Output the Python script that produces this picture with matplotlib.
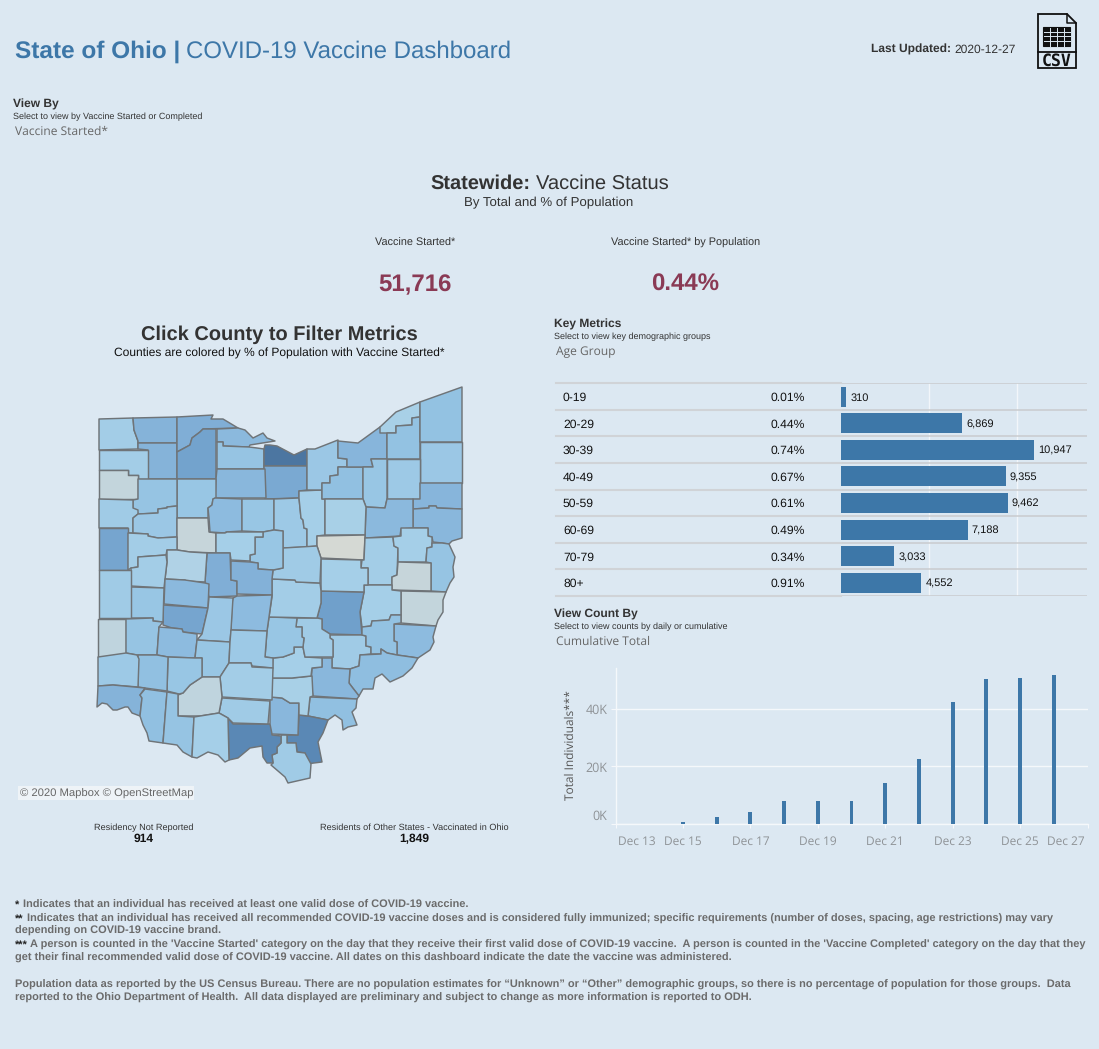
import matplotlib
matplotlib.use("Agg")
import matplotlib.pyplot as plt
from matplotlib.patches import Polygon, Rectangle
from matplotlib.colors import LinearSegmentedColormap
from matplotlib import transforms
import numpy as np

plt.rcParams["text.hinting"] = "no_hinting"

W, H = 1099, 1049
BG = "#dce8f2"
BLUE = "#3d77a8"
SANS = "Liberation Sans"
TAB = "Open Sans"

# ---- data ----
age_groups = ["0-19", "20-29", "30-39", "40-49", "50-59", "60-69", "70-79", "80+"]
age_counts = [310, 6869, 10947, 9355, 9462, 7188, 3033, 4552]
age_pct = ["0.01%", "0.44%", "0.74%", "0.67%", "0.61%", "0.49%", "0.34%", "0.91%"]

day_numbers = [15, 16, 17, 18, 19, 20, 21, 22, 23, 24, 25, 26]
day_totals = [700, 2440, 4190, 8020, 8020, 8020, 14300, 22670, 42560, 50580, 50930, 51716]
tick_days = [15, 17, 19, 21, 23, 25]
y_ticks = [0, 20000, 40000]

# county outlines traced from the map (image pixels), with estimated % of population
county_names = []
county_pct = []
county_outline = []
def county(name, pct, outline):
    county_names.append(name); county_pct.append(pct); county_outline.append(outline)

county("Williams", .32, [(99,419),(133,418),(134,430),(138,441),(138,449),(99,450)])
county("Fulton", .58, [(133,418),(177,417),(177,443),(138,443),(138,441),(134,430)])
county("Henry", .58, [(138,443),(177,443),(177,479),(148,479),(148,450),(138,449)])
county("Defiance", .32, [(99,450),(148,450),(148,479),(138,479),(138,475),(128,475),(128,470),(99,470)])
county("Paulding", .12, [(99,470),(128,470),(128,475),(138,475),(138,499),(99,499)])
county("Lucas", .62, [(177,417),(213,415),(211,419),(223,419),(238,428),(203,429),(200,432),(192,438),(190,445),(177,452)])
county("Wood", .70, [(177,452),(190,445),(192,438),(200,432),(203,429),(216,429),(216,479),(177,479)])
county("Ottawa", .52, [(217,429),(238,428),(245,430),(253,438),(263,433),(267,438),(275,441),(250,445),(249,447),(223,446),(223,442),(217,442)])
county("Sandusky", .42, [(217,442),(223,442),(223,446),(249,447),(257,448),(264,449),(264,469),(217,469)])
county("Erie", .98, [(264,449),(265,445),(270,445),(277,446),(294,455),(307,449),(307,466),(264,466)])
county("Huron", .66, [(264,466),(307,466),(307,490),(299,491),(299,498),(265,499)])
county("Seneca", .54, [(217,469),(265,469),(266,498),(215,498),(216,479)])
county("Putnam", .40, [(177,479),(216,479),(216,498),(213,499),(212,505),(208,508),(208,518),(177,518)])
county("Hancock2", .42, [(138,479),(177,479),(177,506),(167,507),(167,508),(158,509),(158,513),(139,514),(133,509),(133,500),(138,499)])
county("VanWert", .34, [(99,499),(133,500),(133,508),(138,510),(138,514),(133,518),(133,533),(128,533),(128,528),(99,528)])
county("Allen", .38, [(138,514),(158,513),(158,509),(167,508),(167,507),(177,506),(177,537),(158,538),(148,536),(148,534),(133,533),(133,518)])
county("Hardin", .10, [(177,518),(208,518),(209,532),(216,533),(216,553),(190,552),(177,550)])
county("Mercer", .68, [(99,528),(128,528),(128,570),(99,570)])
county("Auglaize", .32, [(128,533),(148,534),(148,536),(158,538),(177,537),(177,550),(167,550),(166,555),(138,557),(138,567),(131,568),(128,570)])
county("Hancock", .50, [(215,498),(242,499),(242,531),(226,532),(225,533),(210,532),(209,518),(208,508),(212,505),(213,499)])
county("Crawford", .40, [(242,499),(274,499),(274,530),(263,532),(242,531)])
county("Richland", .36, [(274,499),(299,498),(301,518),(303,520),(304,528),(307,529),(307,547),(283,548),(283,531),(274,530)])
county("Ashland", .30, [(299,491),(322,490),(322,499),(325,499),(325,535),(317,536),(317,546),(307,547),(307,529),(304,528),(303,520),(301,518),(299,498)])
county("Lorain", .38, [(307,449),(315,449),(338,440),(338,458),(347,459),(347,467),(338,467),(338,475),(330,476),(330,483),(322,483),(322,490),(307,490)])
county("Medina", .46, [(322,483),(330,483),(330,476),(338,475),(338,467),(363,467),(363,499),(322,499)])
county("Cuyahoga", .56, [(338,441),(358,443),(380,427),(387,433),(387,459),(371,459),(373,467),(363,467),(347,467),(347,459),(338,458)])
county("Lake", .28, [(380,427),(396,412),(420,402),(420,417),(412,418),(412,425),(396,426),(396,433),(380,433)])
county("Geauga", .44, [(387,433),(396,433),(396,426),(412,425),(412,418),(420,417),(420,459),(387,459)])
county("Ashtabula", .44, [(420,402),(462,387),(462,442),(420,442)])
county("Trumbull", .38, [(420,442),(462,442),(462,483),(420,483)])
county("Portage", .36, [(387,459),(420,459),(420,499),(387,499)])
county("Summit", .40, [(371,459),(387,459),(387,499),(385,508),(366,507),(363,499),(363,467),(373,467)])
county("Mahoning", .56, [(420,483),(462,483),(462,509),(437,508),(436,506),(429,506),(429,508),(413,509),(413,499),(420,499)])
county("Columbiana", .54, [(413,509),(429,508),(429,506),(436,506),(437,508),(462,509),(462,538),(452,541),(449,544),(442,543),(433,542),(432,537),(428,536),(428,528),(413,528)])
county("Stark", .52, [(366,507),(385,508),(387,499),(413,499),(413,528),(401,529),(400,536),(365,538)])
county("Wayne", .28, [(325,499),(363,499),(366,507),(365,535),(325,535)])
county("Holmes", .01, [(317,536),(365,535),(364,560),(321,558),(317,546)])
county("Tuscarawas", .32, [(365,538),(393,537),(394,546),(398,548),(397,575),(392,577),(392,585),(368,585),(368,568),(361,568),(362,560),(364,560)])
county("Carroll", .30, [(401,528),(428,528),(428,536),(432,537),(432,547),(427,548),(426,562),(398,562),(398,548),(394,546),(393,537),(401,536)])
county("Jefferson", .42, [(432,543),(442,543),(449,544),(455,557),(453,567),(454,577),(450,583),(446,592),(431,591),(431,563),(426,562),(427,548),(432,547)])
county("Harrison", .10, [(398,562),(431,563),(431,591),(392,590),(392,577),(397,575)])
county("Belmont", .12, [(401,591),(446,592),(443,600),(443,612),(438,620),(436,626),(401,623)])
county("Monroe", .50, [(394,624),(436,626),(433,637),(434,642),(430,650),(418,658),(397,655),(397,642),(394,641)])
county("Guernsey", .30, [(364,585),(392,585),(392,590),(401,591),(401,615),(391,615),(389,620),(372,621),(371,626),(362,627),(360,612),(364,592)])
county("Muskingum", .72, [(321,591),(364,592),(360,612),(362,635),(330,634),(322,629),(322,619),(317,618),(321,603)])
county("Coshocton", .30, [(321,559),(361,560),(361,568),(368,568),(368,585),(364,585),(364,592),(321,591)])
county("Morgan", .34, [(330,635),(362,635),(366,636),(366,646),(371,647),(371,654),(360,655),(359,666),(350,669),(332,668),(332,658),(333,657),(333,640),(330,638)])
county("Noble", .44, [(362,627),(371,626),(372,621),(389,620),(391,615),(401,615),(401,623),(394,624),(394,641),(397,642),(397,655),(387,653),(381,649),(381,654),(371,654),(371,647),(366,646),(366,636),(362,635)])
county("Washington", .48, [(360,655),(381,654),(381,649),(387,653),(397,655),(418,658),(412,668),(403,676),(390,682),(382,674),(375,678),(373,689),(363,689),(359,696),(352,687),(349,683),(350,669),(359,666)])
county("Athens", .54, [(322,658),(332,658),(332,668),(350,669),(349,683),(352,687),(359,696),(357,699),(313,696),(311,685),(312,668),(322,667)])
county("Meigs", .46, [(310,697),(357,699),(356,708),(352,712),(357,725),(348,727),(343,730),(342,720),(335,715),(328,720),(308,716)])
county("Gallia", .90, [(299,715),(308,716),(328,720),(323,733),(318,742),(322,762),(306,764),(305,753),(297,752),(296,743),(287,743),(287,735),(298,735)])
county("Lawrence", .34, [(282,735),(287,735),(287,743),(296,743),(297,752),(305,753),(311,764),(310,778),(288,783),(285,777),(271,765),(273,763),(272,755),(277,753),(277,747),(281,743),(281,736)])
county("Scioto", .90, [(228,718),(233,724),(272,724),(272,735),(281,736),(281,743),(277,747),(277,753),(272,755),(273,763),(267,763),(263,757),(262,746),(250,748),(238,758),(229,760)])
county("Pike", .34, [(222,698),(270,701),(268,724),(233,723),(228,718),(219,713)])
county("Jackson", .54, [(270,697),(282,698),(290,703),(299,703),(298,735),(272,734),(270,724)])
county("Vinton", .28, [(272,678),(292,678),(312,676),(313,696),(310,697),(308,716),(299,715),(299,703),(290,703),(282,698),(270,697)])
county("Hocking", .30, [(273,658),(283,657),(294,653),(294,647),(303,647),(305,657),(322,658),(322,667),(312,668),(311,676),(292,678),(272,678)])
county("Perry", .34, [(297,618),(317,618),(322,619),(322,629),(330,634),(330,638),(333,640),(333,657),(305,657),(303,647),(304,638),(302,637),(302,627),(296,627)])
county("Fairfield", .40, [(269,617),(297,618),(296,627),(302,627),(302,637),(304,638),(303,647),(294,647),(294,653),(283,657),(273,658),(265,657),(267,631)])
county("Licking", .32, [(272,579),(295,580),(296,582),(320,583),(321,591),(321,603),(317,618),(269,617),(272,597)])
county("Knox", .34, [(283,548),(317,546),(321,558),(320,583),(296,582),(295,580),(272,579),(273,570),(283,568)])
county("Morrow", .40, [(263,532),(274,530),(283,531),(283,568),(273,570),(258,569),(258,563),(250,562),(250,555),(255,554),(255,537),(263,537)])
county("Marion", .30, [(216,533),(225,533),(227,532),(263,532),(263,537),(255,537),(255,554),(250,555),(250,561),(231,560),(230,553),(216,553)])
county("Union", .62, [(207,553),(230,553),(231,580),(237,581),(237,596),(209,597),(205,582)])
county("Logan", .22, [(167,550),(177,550),(190,552),(207,553),(205,582),(186,581),(185,580),(165,579),(167,562)])
county("Shelby", .32, [(138,557),(166,555),(167,562),(165,579),(164,588),(131,586),(131,568),(138,567)])
county("Delaware", .60, [(231,561),(250,562),(258,563),(258,569),(273,570),(272,579),(272,595),(237,594),(237,581),(231,580)])
county("Franklin", .50, [(233,598),(237,596),(272,595),(269,617),(267,631),(231,630),(232,603)])
county("Champaign", .52, [(165,579),(185,580),(205,583),(209,584),(208,608),(164,604)])
county("Clark", .68, [(163,605),(208,608),(202,634),(183,632),(182,629),(172,628),(163,625)])
county("Madison", .38, [(209,597),(233,598),(231,630),(230,642),(197,640),(202,634),(208,608)])
county("Miami", .40, [(131,587),(164,588),(163,622),(153,621),(153,618),(131,618)])
county("Darke", .34, [(99,570),(131,570),(131,618),(99,618)])
county("Preble", .14, [(98,619),(126,619),(126,657),(98,657)])
county("Montgomery", .42, [(126,619),(153,618),(153,621),(163,622),(159,627),(157,655),(137,655),(126,653)])
county("Greene", .50, [(159,627),(172,628),(182,629),(183,632),(197,634),(197,640),(195,658),(168,657),(157,655)])
county("Pickaway", .40, [(197,640),(230,642),(229,663),(220,677),(202,677),(202,658),(195,658)])
county("Ross", .36, [(231,630),(267,631),(265,657),(273,658),(273,668),(252,666),(251,663),(229,663),(230,642)])
county("Jackson2", .32, [(229,663),(251,663),(252,667),(273,668),(272,700),(222,697),(220,677)])
county("Highland", .14, [(202,677),(220,677),(222,697),(219,713),(200,716),(178,716),(178,695),(183,693),(190,685)])
county("Clinton", .40, [(168,657),(195,658),(202,658),(202,677),(190,685),(183,693),(179,694),(167,691)])
county("Warren", .46, [(138,655),(157,655),(168,657),(167,691),(145,688),(138,687)])
county("Butler", .36, [(98,657),(126,653),(137,655),(139,659),(138,687),(113,685),(98,686)])
county("Hamilton", .58, [(98,686),(113,685),(145,688),(140,695),(142,698),(140,716),(132,713),(128,707),(125,707),(117,710),(113,710),(107,704),(102,703),(97,707)])
county("Clermont", .46, [(145,689),(167,692),(163,743),(149,741),(147,733),(143,725),(140,716),(142,698),(140,695)])
county("Brown", .42, [(167,692),(178,694),(178,716),(194,717),(192,757),(183,752),(177,745),(163,743)])
county("Adams", .30, [(194,717),(219,713),(228,718),(229,760),(225,762),(218,755),(208,752),(197,758),(192,757)])

cmap = LinearSegmentedColormap.from_list("vax", [
    (0.00, "#d6d9d4"), (0.10, "#c6d5da"), (0.20, "#b3d3e5"), (0.30, "#a5cfe8"),
    (0.45, "#92c1e2"), (0.60, "#83b1d8"), (0.72, "#70a0cb"), (0.90, "#5a88b5"), (1.00, "#48729c")])

# ---- figure ----
fig = plt.figure(figsize=(W / 100, H / 100), dpi=100, facecolor=BG)
ov = fig.add_axes([0, 0, 1, 1], facecolor="none")
ov.set_xlim(0, W); ov.set_ylim(H, 0); ov.axis("off")

def axpx(l, t, r, b):
    return fig.add_axes([l / W, 1 - b / H, (r - l) / W, (b - t) / H], facecolor="none")

def T(x, y, s, px, color="#333333", bold=False, ha="left", family=SANS, **kw):
    return ov.text(x, y, s, fontsize=px * 0.72, color=color, ha=ha, va="baseline",
                   fontweight="bold" if bold else "normal", family=family, **kw)

# header
T(15, 58, "State of Ohio |", 24.4, BLUE, True)
T(186, 58, "COVID-19 Vaccine Dashboard", 24, BLUE)
T(871, 53, "Last Updated:", 12, "#333333", True)
T(954, 53, "2020-12-27", 12, "#333333")

# CSV icon
ICON = "#111111"
ov.add_patch(Polygon([(1038, 14), (1067, 14), (1076, 23), (1076, 68), (1038, 68)], closed=True,
                     fill=False, ec=ICON, lw=1.3))
ov.plot([1067, 1067, 1076], [14, 23, 23], color=ICON, lw=1.1)
ov.plot([1038, 1076], [52, 52], color=ICON, lw=1.3)
ov.add_patch(Rectangle((1043, 27), 27, 19, fc=ICON, ec=ICON, lw=0.8))
for gx in (1049.5, 1056.5, 1063.5):
    ov.plot([gx, gx], [27.5, 45.5], color=BG, lw=0.7)
for gy in (31.5, 36, 40.5):
    ov.plot([1043.5, 1069.5], [gy, gy], color=BG, lw=0.7)
T(1057, 66, "CSV", 16.5, ICON, True, ha="center", family="DejaVu Sans Mono")

# filters
T(13, 108, "View By", 12, "#333333", True)
T(13, 119, "Select to view by Vaccine Started or Completed", 9, "#333333")
T(15, 135, "Vaccine Started*", 12, "#666666", family=TAB)

# headline block
T(430, 189, "Statewide:", 20, "#333333", True)
T(536, 189, "Vaccine Status", 20.2, "#333333")
T(549, 206, "By Total and % of Population", 13.2, "#333333", ha="center")
T(415, 246, "Vaccine Started*", 10.9, "#333333", ha="center")
T(686, 246, "Vaccine Started* by Population", 10.9, "#333333", ha="center")
T(415, 291, "51,716", 24, "#8a3a55", True, ha="center")
T(685, 291, "0.44%", 24, "#8a3a55", True, ha="center")

# map
T(279, 340, "Click County to Filter Metrics", 20, "#333333", True, ha="center")
T(279, 357, "Counties are colored by % of Population with Vaccine Started*", 12, "#111111", ha="center")
for outline, pct in zip(county_outline, county_pct):
    ov.add_patch(Polygon(outline, closed=True, fc=cmap(pct), ec="#6f7478", lw=1.05, joinstyle="round"))
ov.add_patch(Rectangle((18, 786), 176, 14, fc="#eef3f7", ec="none"))
T(20, 797, "© 2020 Mapbox © OpenStreetMap", 11.2, "#666666")
T(144, 830, "Residency Not Reported", 9.1, "#333333", ha="center")
T(144, 842, "914", 12, "#111111", True, ha="center")
T(414, 830, "Residents of Other States - Vaccinated in Ohio", 9.1, "#333333", ha="center")
T(414, 842, "1,849", 12, "#111111", True, ha="center")

# key metrics
T(554, 328, "Key Metrics", 12, "#333333", True)
T(554, 339, "Select to view key demographic groups", 9, "#333333")
T(556, 355, "Age Group", 12, "#666666", family=TAB)

a = axpx(841, 383.3, 1087, 596)
a.set_xlim(0, 13953); a.set_ylim(8, 0); a.axis("off")
rows = np.arange(len(age_groups)) + 0.5
a.vlines([5000, 10000], 0, 8, color="#f2f6fa", lw=1, zorder=1)
a.barh(rows, age_counts, height=0.75, color=BLUE, zorder=2)
a.hlines(np.arange(9), 0, 13953, color="#c9cbce", lw=1.1, zorder=1)
mix = transforms.blended_transform_factory(ov.transData, a.transData)
for i, y in enumerate(np.arange(9)):
    a.plot([556, 841], [y, y], transform=mix, color="#d0d3d7", lw=1.5, clip_on=False, zorder=1)
for y, g, p, c in zip(rows, age_groups, age_pct, age_counts):
    a.text(563, y, g, transform=mix, fontsize=8.7, family=SANS, color="#111111", va="center_baseline")
    a.text(771, y, p, transform=mix, fontsize=8.7, family=SANS, color="#111111", va="center_baseline")
    a.annotate(f"{c:,}", (c, y), xytext=(4, 0), textcoords="offset pixels", fontsize=7.9, family=SANS,
               color="#111111", va="center_baseline", annotation_clip=False)

# time chart
T(554, 618, "View Count By", 12, "#333333", True)
T(554, 629, "Select to view counts by daily or cumulative", 9, "#333333")
T(556, 645, "Cumulative Total", 12, "#666666", family=TAB)

TICK = "#8f9397"
b = axpx(615.5, 668, 1087.5, 824)
b.set_xlim(13, 27); b.set_ylim(0, 54260)
b.bar(day_numbers, day_totals, width=0.118, color=BLUE, zorder=3)
for s in ("top", "right"):
    b.spines[s].set_visible(False)
for s in ("left", "bottom"):
    b.spines[s].set_color("#f5f8fb"); b.spines[s].set_linewidth(1)
b.set_yticks(y_ticks)
b.set_yticklabels(["", "20K", "40K"], fontsize=9, color=TICK, family=TAB)
T(607, 819.5, "0K", 12.5, TICK, ha="right", family=TAB)
b.tick_params(axis="y", length=3.6, color="#f5f8fb", pad=2)
b.yaxis.grid(True, color="#f5f8fb", lw=1, zorder=1)
b.set_axisbelow(True)
b.set_xticks([13] + tick_days + [27])
b.set_xticklabels([""] * (len(tick_days) + 2))
b.tick_params(axis="x", length=2.9, color="#f5f8fb")
tx = transforms.blended_transform_factory(b.transData, ov.transData)
for d in tick_days:
    b.text(d, 845, f"Dec {d}", transform=tx, ha="center", fontsize=8.6, color=TICK, family=TAB, clip_on=False)
T(618, 845, "Dec 13", 11.9, TICK, family=TAB)
T(1085, 845, "Dec 27", 11.9, TICK, ha="right", family=TAB)
ov.text(571, 745, "Total Individuals***", fontsize=8.6, color="#555555", rotation=90, ha="center", va="center", family=TAB)

# footer
GR = "#6b6b6b"
footer_lines = [
    (908, "Indicates that an individual has received at least one valid dose of COVID-19 vaccine.", "*", 23),
    (922, "Indicates that an individual has received all recommended COVID-19 vaccine doses and is considered fully immunized; specific requirements (number of doses, spacing, age restrictions) may vary", "**", 27),
    (934, "depending on COVID-19 vaccine brand.", "", 15),
    (948, "A person is counted in the 'Vaccine Started' category on the day that they receive their first valid dose of COVID-19 vaccine.  A person is counted in the 'Vaccine Completed' category on the day that they", "***", 30),
    (961, "get their final recommended valid dose of COVID-19 vaccine. All dates on this dashboard indicate the date the vaccine was administered.", "", 15),
    (988, "Population data as reported by the US Census Bureau. There are no population estimates for “Unknown” or “Other” demographic groups, so there is no percentage of population for those groups.  Data", "", 15),
    (1001, "reported to the Ohio Department of Health.  All data displayed are preliminary and subject to change as more information is reported to ODH.", "", 15),
]
for y, s, star, x in footer_lines:
    if star:
        T(15, y, star, 11.05, "#222222", True)
    T(x, y, s, 11.05, GR, True)

fig.savefig("out.png", dpi=100, facecolor=BG)
